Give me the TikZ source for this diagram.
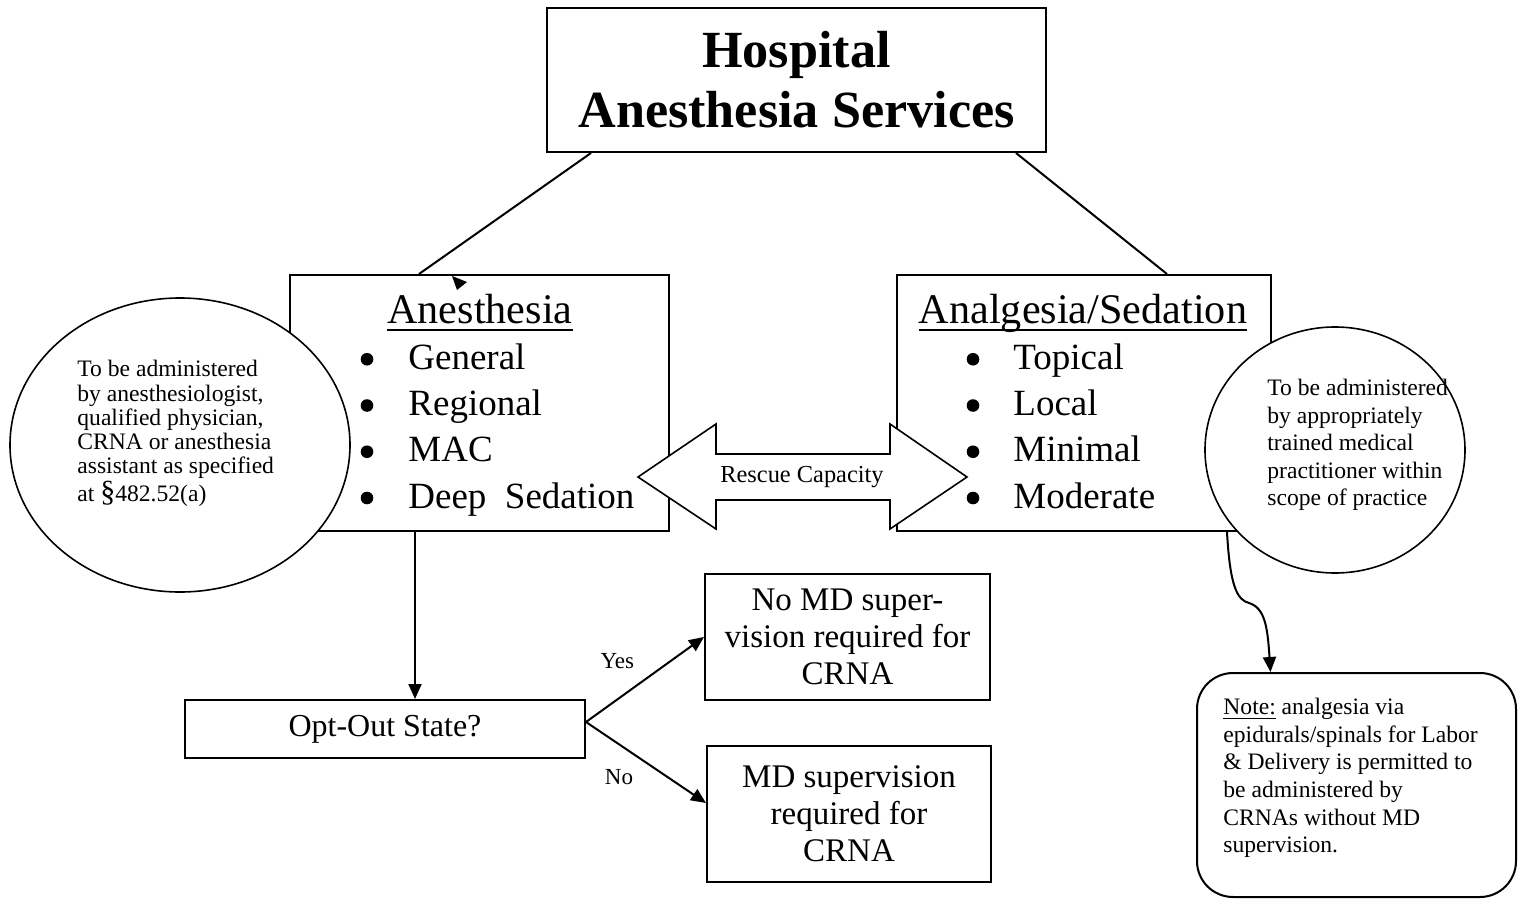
\documentclass[tikz,border=0pt]{standalone}
\usepackage{fontspec}
\setmainfont{Liberation Serif}
\usetikzlibrary{calc}
\usetikzlibrary{arrows.meta}
\usetikzlibrary{shapes.geometric}
\newcommand{\fsz}[2]{\fontsize{#1}{#2}\selectfont}

\begin{document}
\begin{tikzpicture}[x=0.5pt,y=-0.5pt,>={Triangle[length=7.5pt,width=6.5pt]},
		box/.style={rectangle,draw=black,line width=1pt,inner sep=0pt},
		oval/.style={ellipse,draw=black,line width=0.8pt,fill=white,inner sep=0pt},
		head/.style={inner sep=0pt,anchor=base,font=\fsz{21.1pt}{24pt}},
		item/.style={inner sep=0pt,anchor=base west,font=\fsz{18.5pt}{23pt}},
		dot/.style={circle,fill=black,inner sep=0pt,minimum size=6.3pt},
		small/.style={inner sep=0pt,anchor=north west,align=left,font=\fsz{11.8pt}{12.15pt}},
		lbl/.style={inner sep=2pt,font=\fsz{11.5pt}{13pt}},
		conn/.style={line width=1pt},
		arr/.style={line width=1pt,->}]
		\useasboundingbox (0,0) rectangle (1538,899);
		
		\node[box,minimum width=249.5pt,minimum height=72pt,align=center,
			font=\bfseries\fsz{26.1pt}{30pt}] (hosp) at (796.5,80) {Hospital\\Anesthesia Services};
		\node[box,minimum width=189.5pt,minimum height=128pt] (anes) at (479.5,403) {};
		\node[box,minimum width=187pt,minimum height=128pt]   (ana)  at (1084,403) {};
		
		\draw[conn] ([xshift=22.5pt]hosp.south west) -- ([xshift=65pt]anes.north west);
		\draw[conn] ([xshift=-15.5pt]hosp.south east) -- ([xshift=135.5pt]ana.north west);
		\fill (452,276) -- (467,282) -- (457,290) -- cycle;
		
		\node[head] (aneshead) at (480,323)  {Anesthesia};
		\node[head] (anahead)  at (1083,323) {Analgesia/Sedation};
		\draw[line width=0.9pt] ([yshift=-3.5pt]aneshead.base west) -- ([yshift=-3.5pt]aneshead.base east);
		\draw[line width=0.9pt] ([yshift=-3.5pt]anahead.base west) -- ([yshift=-3.5pt]anahead.base east);
		\foreach \t [count=\i] in {General,Regional,MAC,Deep~~Sedation} {
			\node[dot]  (anesdot\i)  at (367,313+46.25*\i) {};
			\node[item] (anesitem\i) at (408,323+46.25*\i) {\t};
		}
		\foreach \t [count=\i] in {Topical,Local,Minimal,Moderate} {
			\node[dot]  (anadot\i)  at (973,313+46.25*\i)  {};
			\node[item] (anaitem\i) at (1013,323+46.25*\i) {\t};
		}
		
		\node[oval,minimum width=170pt,minimum height=147pt] (lefty)  at (180,445)  {};
		\node[oval,minimum width=130pt,minimum height=123pt] (righty) at (1335,450) {};
		\node[small] (leftytext) at (77,360)
			{To be administered\\by anesthesiologist,\\qualified physician,\\CRNA or anesthesia\\assistant as specified\\at {\fsz{15pt}{15pt}\S}482.52(a)};
		\node[small,font=\fsz{11.8pt}{13.75pt}] (rightytext) at (1267,379)
			{To be administered\\by appropriately\\trained medical\\practitioner within\\scope of practice};
		
		\draw[line width=0.8pt,fill=white] (638,477) -- (716,424) -- (716,454) -- (890,454) -- (890,424)
			-- (967,477) -- (890,529) -- (890,500) -- (716,500) -- (716,529) -- cycle;
		\node[inner sep=0pt,anchor=base,font=\fsz{12.2pt}{14pt}] (rescue) at (802,482) {Rescue Capacity};
		
		\node[box,minimum width=200pt,minimum height=29pt,font=\fsz{16pt}{18.5pt}] (opt) at (385,729) {Opt-Out State?};
		\node[box,minimum width=142.5pt,minimum height=63pt,align=center,font=\fsz{16.5pt}{18.5pt}] (nomd) at (847.5,637)
			{No MD super-\\vision required for\\CRNA};
		\node[box,minimum width=142pt,minimum height=68pt,align=center,font=\fsz{16.5pt}{18.5pt}] (md) at (849,814)
			{MD supervision\\required for\\CRNA};
		
		\coordinate (optin) at ([xshift=15pt]opt.north);
		\draw[arr] (anes.south -| optin) -- (optin);
		\draw[arr] ([yshift=3.5pt]opt.east) -- node[lbl,above left=3pt] (yes) {Yes} (nomd.west);
		\draw[arr] ([yshift=3.5pt]opt.east) -- node[lbl,below left=1pt,xshift=-3pt] (no) {No} ([yshift=5.5pt]md.west);
		
		\node[box,rounded corners=18pt,minimum width=159.5pt,minimum height=112pt] (note) at (1356.5,785) {};
		\node[small,font=\fsz{11.8pt}{13.8pt}] (notetext) at (1223,698)
			{\underline{Note:} analgesia via\\epidurals/spinals for Labor\\\& Delivery is permitted to\\be administered by\\CRNAs without MD\\supervision.};
		
		\coordinate (anatail) at ([xshift=71.5pt]ana.south);
		\coordinate (notetip) at ([xshift=-43pt]note.north);
		\draw[arr] (anatail) .. controls ($(anatail)+(3,54)$) and ($(anatail)+(10,68)$) .. ($(anatail)+(22,71)$)
			.. controls ($(anatail)+(38,76)$) and ($(notetip)+(-3,-45)$) .. (notetip);
\end{tikzpicture}
\end{document}
